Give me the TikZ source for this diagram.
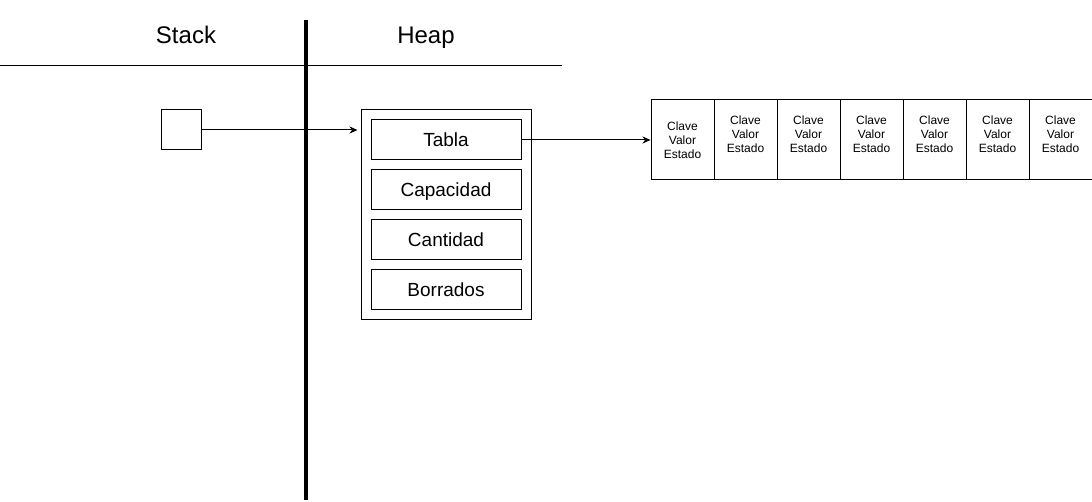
\documentclass[tikz,border=0pt]{standalone}
\usepackage{fontspec}
\setmainfont{Liberation Sans}
\usetikzlibrary{arrows.meta}
\begin{document}
\begin{tikzpicture}[x=1pt,y=-1pt,
  thinbox/.style={draw=black,line width=1pt,rectangle,inner sep=0pt},
  fieldbox/.style={thinbox,minimum width=150pt,minimum height=40pt,text height=17.6pt,text depth=4pt,font=\fontsize{19}{22}\selectfont},
  cellbox/.style={thinbox,minimum width=63pt,minimum height=80pt},
  celltext/.style={align=center,inner sep=0pt,font=\fontsize{12}{14}\selectfont},
  title/.style={font=\fontsize{24}{28}\selectfont,inner sep=0pt,anchor=base},
  conn/.style={line width=1pt,-{Stealth[length=8pt,width=7pt]}}
]
\useasboundingbox (0,0) rectangle (1092,502);
% divider lines
\coordinate (vtop) at (306,20);
\coordinate (vbot) at (306,500);
\coordinate (hl) at (0,65.5);
\coordinate (hr) at (562,65.5);
\draw[line width=1.8pt] (hl) -- (hr);
\draw[line width=4pt] (vtop) -- (vbot);
% titles
\node[title] (stacklbl) at (186,44) {Stack};
\node[title] (heaplbl) at (426,44) {Heap};
% stack variable
\node[thinbox,minimum size=40pt] (sbox) at (181,130) {};
% heap object
\node[thinbox,minimum width=170pt,minimum height=210pt] (hbox) at (446,215) {};
\node[fieldbox] (tabla) at (446,140) {Tabla};
\node[fieldbox] (cap) at (446,190) {Capacidad};
\node[fieldbox] (cant) at (446,240) {Cantidad};
\node[fieldbox] (borr) at (446,290) {Borrados};
% array cells
\foreach \i in {0,...,6}{
  \node[cellbox] (c\i) at ({651+63*\i+31.5},140) {};
}
\node[celltext] (t0) at (c0.center) {Clave\\Valor\\Estado};
\foreach \i in {1,...,6}{
  \node[celltext,yshift=6pt] (t\i) at (c\i.center) {Clave\\Valor\\Estado};
}
% connectors
\draw[conn,shorten >=3pt] (sbox.east) -- (sbox.east -| hbox.west);
\draw[conn] (tabla.east) -- (c0.west);
\end{tikzpicture}
\end{document}
